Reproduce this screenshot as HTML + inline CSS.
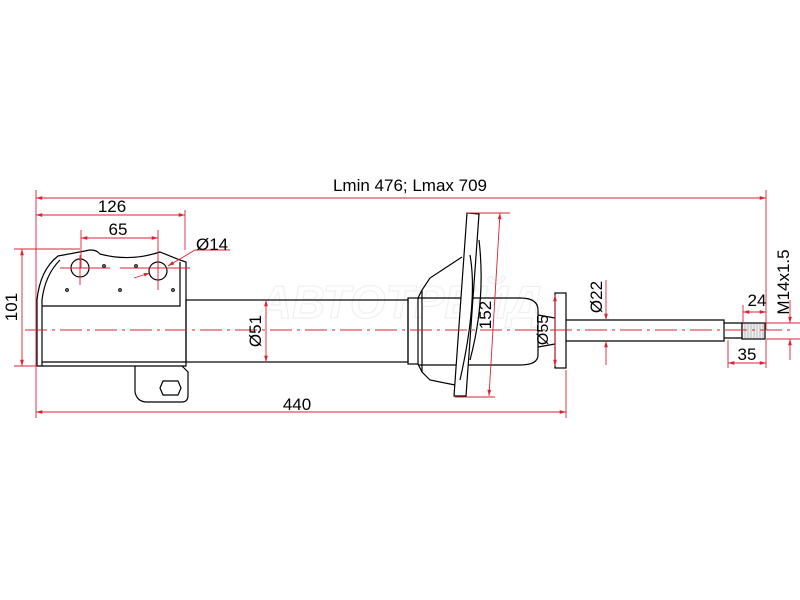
<!DOCTYPE html>
<html><head><style>html,body{margin:0;padding:0;background:#fff}svg{display:block}text{font-family:"Liberation Sans",sans-serif;font-size:17px;fill:#000}</style></head>
<body>
<svg width="800" height="600" viewBox="0 0 800 600" xmlns="http://www.w3.org/2000/svg">
<defs>
<marker id="a" viewBox="0 0 10 10" refX="10" refY="5" markerWidth="7" markerHeight="7" orient="auto-start-reverse"><path d="M0,2 L10,5 L0,8 z" fill="#d23"/></marker>
</defs>
<text x="400" y="318" text-anchor="middle" style="font-size:46px;font-style:italic;font-weight:bold;fill:none;stroke:#f0f0f0;stroke-width:1.2">АВТОТРЕЙД</text>
<g fill="none" stroke="#000" stroke-width="1.2">
<path d="M37,366 L37,300 Q40,270 58,256 L85,251 Q95,248 100,254 Q130,262 160,252 L180,260 L186,262 L186,366 Z"/>
<path d="M42,366 L42,300 Q45,275 60,260"/>
<path d="M42,306 L180,306 L180,262"/>
<path d="M42,362 L186,362"/>
<circle cx="80" cy="268" r="9"/><circle cx="158" cy="271" r="9"/>
<circle cx="104" cy="266" r="1.3"/><circle cx="136" cy="266" r="1.3"/><circle cx="67" cy="290" r="1.3"/><circle cx="120" cy="290" r="1.3"/><circle cx="173" cy="290" r="1.3"/>
<path d="M135,366 L135,392 Q137,402 147,402 L182,402 Q188,402 188,395 L188,372 L182,366"/>
<path d="M163,381 L178,381 L181,388 L178,395 L163,395 L160,388 Z"/>
<rect x="186" y="300" width="222" height="62"/>
<rect x="408" y="298" width="10" height="66"/>
<path d="M418,298 L422,290 L430,278 L462,257"/>
<path d="M418,364 L422,372 L430,380 L455,385"/>
<path d="M422,290 L422,372"/>
<path d="M418,298 L520,298 Q538,298 538,310 L538,355 Q538,365 520,365 L418,365"/>
<path d="M467,213 L479,214 L466,396 L454,396 Z" fill="#fff"/>
<path d="M479,240 Q486,300 470,360"/>
<path d="M470,255 Q478,300 460,380"/>
<path d="M538,315 L555,318 M538,347 L555,344"/>
<rect x="555" y="293" width="11" height="75" fill="#fff"/>
<path d="M566,320 L724,320 L724,341 L566,341"/>
<path d="M724,323 L742,323 L742,338 L724,338"/>
<rect x="742" y="323" width="23" height="16" fill="#eee"/>
</g>
<g stroke="#999" stroke-width="0.6"><path d="M745,324V338M748,324V338M751,324V338M754,324V338M757,324V338M760,324V338M763,324V338"/></g>
<g stroke="#d23" stroke-width="0.9" fill="none">
<path d="M25,330 L790,330" stroke-dasharray="22,5,3,5"/>
<path d="M36,190 L36,418 M766,190 L766,330 M185,210 L185,250 M81,230 L81,268 M158,230 L158,270 M566,370 L566,418 M743,305 L743,323 M728,340 L728,368 M766,340 L766,368 M14,249 L80,249 M14,366 L37,366 M766,323 L800,323 M766,339 L800,339 M467,213 L510,213 M455,397 L495,397"/>
<path d="M36,198 L766,198" marker-start="url(#a)" marker-end="url(#a)"/>
<path d="M36,215 L185,215" marker-start="url(#a)" marker-end="url(#a)"/>
<path d="M81,238 L158,238" marker-start="url(#a)" marker-end="url(#a)"/>
<path d="M22,249 L22,366" marker-start="url(#a)" marker-end="url(#a)"/>
<path d="M36,412 L566,412" marker-start="url(#a)" marker-end="url(#a)"/>
<path d="M266,300 L266,362" marker-start="url(#a)" marker-end="url(#a)"/>
<path d="M500,213 L489,396" marker-start="url(#a)" marker-end="url(#a)"/>
<path d="M555,295 L555,366" marker-start="url(#a)" marker-end="url(#a)"/>
<path d="M606,280 L606,320" marker-end="url(#a)"/>
<path d="M606,365 L606,341" marker-end="url(#a)"/>
<path d="M743,312 L766,312" marker-start="url(#a)" marker-end="url(#a)"/>
<path d="M728,363 L766,363" marker-start="url(#a)" marker-end="url(#a)"/>
<path d="M790,300 L790,323" marker-end="url(#a)"/>
<path d="M790,360 L790,339" marker-end="url(#a)"/>
<path d="M195,250 L168,266" marker-end="url(#a)"/>
<path d="M195,250 L230,250"/>
<path d="M134,278 L150,273" marker-end="url(#a)"/>
<path d="M60,268 L110,268 M120,268 L190,268 M80,255 L80,285 M158,258 L158,290"/>
</g>
<text x="410" y="191" text-anchor="middle">Lmin 476; Lmax 709</text>
<text x="112" y="212" text-anchor="middle">126</text>
<text x="118" y="235" text-anchor="middle">65</text>
<text x="196" y="250">Ø14</text>
<text x="297" y="410" text-anchor="middle">440</text>
<text x="757" y="306" text-anchor="middle">24</text>
<text x="747" y="360" text-anchor="middle">35</text>
<text transform="translate(17,307) rotate(-90)" text-anchor="middle">101</text>
<text transform="translate(261,331) rotate(-90)" text-anchor="middle">Ø51</text>
<text transform="translate(491,315) rotate(-90)" text-anchor="middle">152</text>
<text transform="translate(548,330) rotate(-90)" text-anchor="middle" style="font-size:16px">Ø55</text>
<text transform="translate(602,297) rotate(-90)" text-anchor="middle">Ø22</text>
<text transform="translate(789,282) rotate(-90)" text-anchor="middle">M14x1.5</text>
</svg>
</body></html>
